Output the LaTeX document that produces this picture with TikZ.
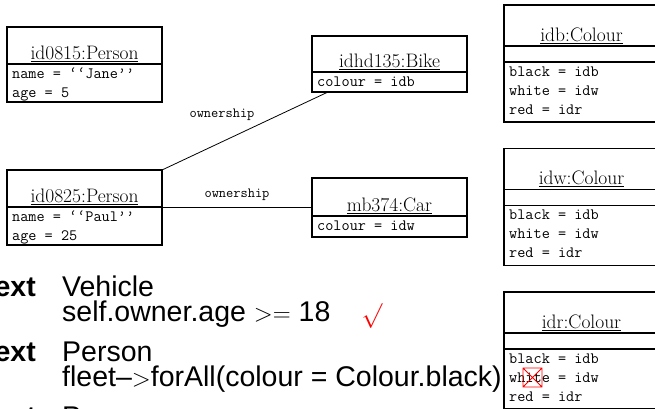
\documentclass[tikz,border=0pt]{standalone}
\usepackage{fontspec}
\newfontfamily\helv{Liberation Sans}
\usetikzlibrary{calc}
\begin{document}
\begin{tikzpicture}[x=1pt,y=-1pt,
  objbox/.style={draw, line width=1.4pt, inner sep=0, outer sep=0, minimum width=155pt, anchor=north west},
  sepline/.style={line width=1.4pt},
  ttrow/.style={font=\fontsize{15.8}{18}\selectfont\ttfamily, anchor=base west, inner sep=0},
  otitle/.style={font=\fontsize{19.5}{22}\selectfont, anchor=base, inner sep=0},
  lbl/.style={font=\fontsize{14}{16}\selectfont\ttfamily, inner sep=0},
  slide/.style={font=\fontsize{28.5}{25}\selectfont\helv, align=left, anchor=base west, inner sep=0},
  slidebold/.style={font=\fontsize{28.5}{30}\selectfont\helv\bfseries, anchor=base east, inner sep=0},
  conn/.style={line width=0.8pt}]
\useasboundingbox (0,0) rectangle (655,408);
\clip (0,0) rectangle (655,408);

% id0815:Person
\node[objbox, minimum height=75pt] (p1) at (7,27) {};
\draw[sepline] ($(p1.north west)+(0,37)$) -- ($(p1.north east)+(0,37)$);
\node[otitle] (p1t) at ($(p1.north)+(0,32.5)$) {\underline{id0815:Person}};
\node[ttrow] (p1a) at ($(p1.north west)+(5,51)$) {name = ‘‘Jane’’};
\node[ttrow] (p1b) at ($(p1.north west)+(5,70)$) {age = 5};

% id0825:Person
\node[objbox, minimum height=75pt] (p2) at (7,170) {};
\coordinate (p2sep) at ($(p2.north east)+(0,37)$);
\draw[sepline] ($(p2.north west)+(0,37)$) -- (p2sep);
\node[otitle] (p2t) at ($(p2.north)+(0,32.5)$) {\underline{id0825:Person}};
\node[ttrow] (p2a) at ($(p2.north west)+(5,51)$) {name = ‘‘Paul’’};
\node[ttrow] (p2b) at ($(p2.north west)+(5,70)$) {age = 25};

% idhd135:Bike
\node[objbox, minimum height=56pt] (bike) at (312,36) {};
\draw[sepline] ($(bike.north west)+(0,36)$) -- ($(bike.north east)+(0,36)$);
\node[otitle] (biket) at ($(bike.north)+(0,31.5)$) {\underline{idhd135:Bike}};
\node[ttrow] (bikea) at ($(bike.north west)+(5,50.5)$) {colour = idb};

% mb374:Car
\node[objbox, minimum height=59pt] (car) at (312,178) {};
\draw[sepline] ($(car.north west)+(0,38)$) -- ($(car.north east)+(0,38)$);
\node[otitle] (cart) at ($(car.north)+(0,33.5)$) {\underline{mb374:Car}};
\node[ttrow] (cara) at ($(car.north west)+(5,52.5)$) {colour = idw};

% Colour objects
\foreach \nm/\y in {idb/5, idw/148.5, idr/292}{
  \node[objbox, minimum height=117pt] (\nm) at (504,\y) {};
  \draw[sepline] ($(\nm.north west)+(0,41)$) -- ($(\nm.north east)+(0,41)$);
  \draw[sepline] ($(\nm.north west)+(0,57)$) -- ($(\nm.north east)+(0,57)$);
  \node[otitle] (\nm t) at ($(\nm.north)+(0,36)$) {\underline{\nm:Colour}};
  \node[ttrow] (\nm a) at ($(\nm.north west)+(5,71)$) {black = idb};
  \node[ttrow] (\nm b) at ($(\nm.north west)+(5,90)$) {white = idw};
  \node[ttrow] (\nm c) at ($(\nm.north west)+(5,109)$) {red = idr};
}

% links
\coordinate (bikeend) at ($(bike.south west)+(16,0)$);
\draw[conn] (p2.north east) -- (bikeend);
\draw[conn] (p2sep) -- (p2sep -| car.west);
\node[lbl] (own1) at (222,115) {ownership};
\node[lbl] (own2) at (237,195) {ownership};

% slide text
\node[slidebold] (c1) at (36,296) {ext};
\node[slide] (v1) at (62,321) {Vehicle\\self.owner.age $>=$ 18};
\node[text=red, font=\fontsize{24}{26}\selectfont, inner sep=0] (chk) at (372,316) {$\surd$};
\node[slidebold] (c2) at (36,361) {ext};
\node[slide] (q1) at (62,386) {Person\\fleet–$>$forAll(colour = Colour.black)};
\node[slidebold] (c3) at (36,426) {ext};
\node[slide] (q3) at (62,426) {P};

% red crossed box
\draw[red, line width=0.9pt] (523,368) rectangle (542,387) (523,368) -- (542,387) (523,387) -- (542,368);
\end{tikzpicture}
\end{document}
